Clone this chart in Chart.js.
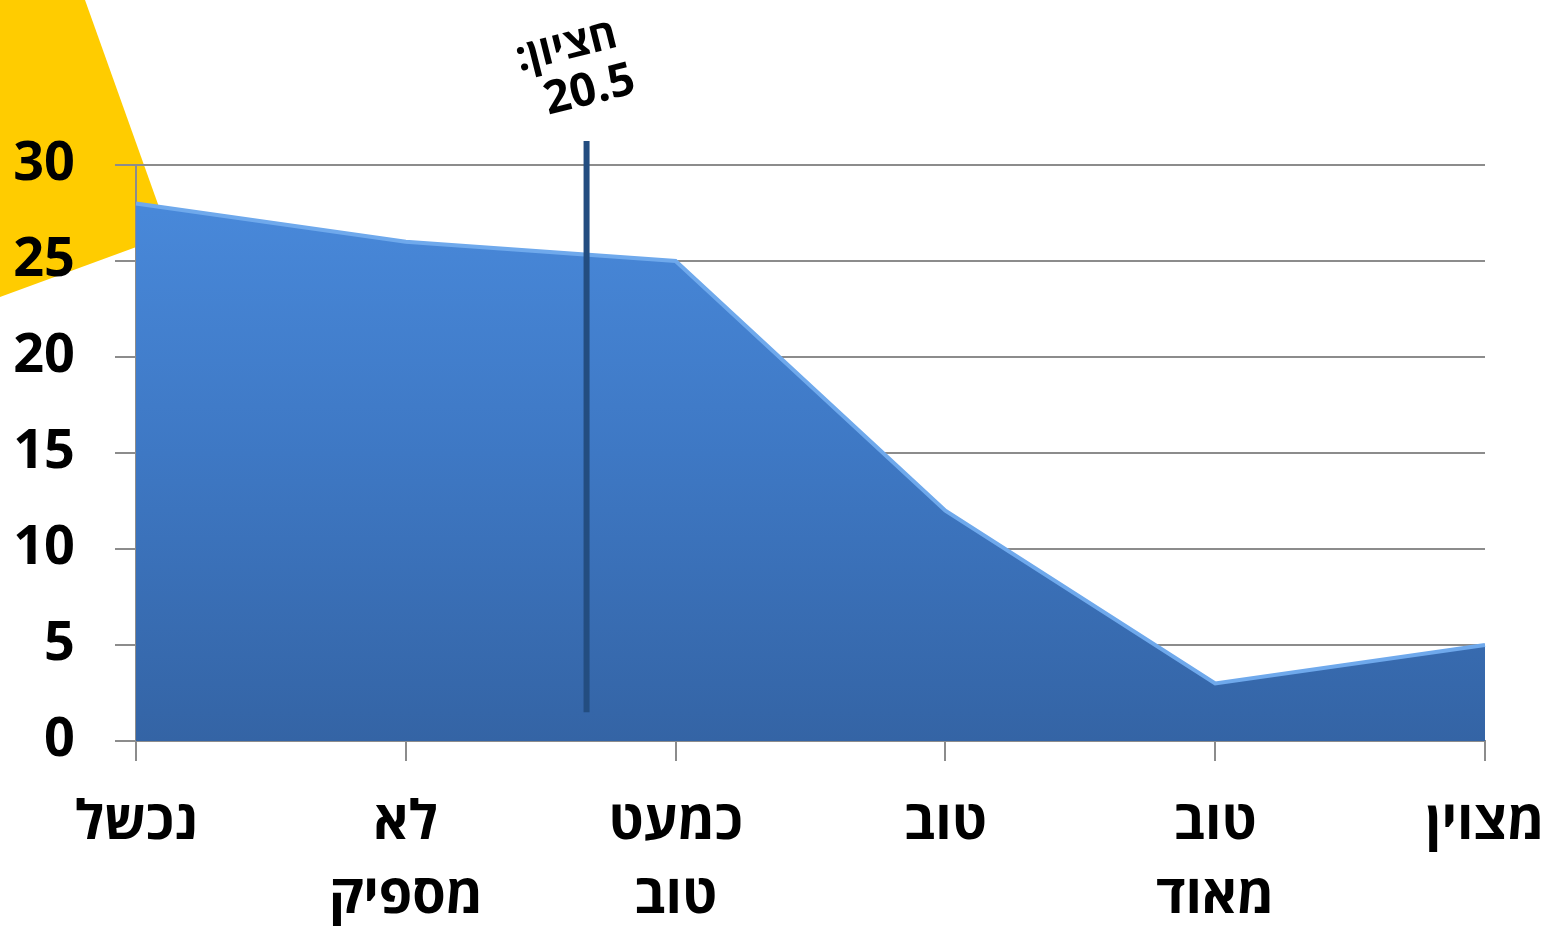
<!DOCTYPE html>
<html lang="he">
<head>
<meta charset="utf-8">
<title>התפלגות ציונים</title>
<script src="https://cdn.jsdelivr.net/npm/chart.js@4.4.1/dist/chart.umd.min.js"></script>
<style>
  html, body { margin: 0; padding: 0; background: #fff; }
  #wrap { position: relative; width: 1548px; height: 927px; overflow: hidden; }
  #deco { position: absolute; left: 0; top: 0; }
  #chart { position: absolute; left: 0; top: 0; }
</style>
</head>
<body>
<div id="wrap">
  <!-- yellow slide decoration behind the chart -->
  <svg id="deco" width="1548" height="927">
    <polygon points="0,0 85,0 169,235 0,297" fill="#FFCC00" />
  </svg>
  <canvas id="chart" width="1548" height="927"></canvas>
</div>
<script>
// data
const categories = ["נכשל", ["לא", "מספיק"], ["כמעט", "טוב"], "טוב", ["טוב", "מאוד"], "מצוין"];
const counts = [28, 26, 25, 12, 3, 5];
const yTicks = [0, 5, 10, 15, 20, 25, 30];

// median marker (position on category axis, line extent in y units)
const medianLabel = ["חציון:", "20.5"];
const medianPos = 1.67;
const medianFrom = 1.5;
const medianTo = 31.25;

const FONT = "'Open Sans', 'DejaVu Sans', sans-serif";
const GRID = "#8C8C8C";

const medianPlugin = {
  id: "median",
  afterDatasetsDraw(chart) {
    const { ctx, scales } = chart;
    const x = scales.x.getPixelForValue(medianPos);
    const y1 = scales.y.getPixelForValue(medianFrom);
    const y2 = scales.y.getPixelForValue(medianTo);

    ctx.save();
    ctx.strokeStyle = "#234D80";
    ctx.lineWidth = 6;
    ctx.beginPath();
    ctx.moveTo(x, y1);
    ctx.lineTo(x, y2);
    ctx.stroke();

    // rotated label above the line
    ctx.translate(x - 8, y2 - 70);
    ctx.rotate(-14 * Math.PI / 180);
    ctx.fillStyle = "#000";
    ctx.textAlign = "center";
    ctx.textBaseline = "middle";
    ctx.direction = "rtl";
    ctx.font = "bold 42px " + FONT;
    ctx.fillText(medianLabel[0], -6, -26);
    ctx.direction = "ltr";
    ctx.font = "bold 46px " + FONT;
    ctx.fillText(medianLabel[1], 6, 22);
    ctx.restore();
  }
};

const ctx = document.getElementById("chart").getContext("2d");

new Chart(ctx, {
  type: "line",
  data: {
    labels: categories,
    datasets: [
      {
        data: counts,
        fill: "origin",
        borderColor: "#6FA9EC",
        borderWidth: 4,
        pointRadius: 0,
        tension: 0,
        backgroundColor: (c) => {
          const area = c.chart.chartArea;
          if (!area) return "#3F7AC6";
          const g = c.chart.ctx.createLinearGradient(0, area.top, 0, area.bottom);
          g.addColorStop(0, "#4A8BDD");
          g.addColorStop(0.5, "#3E78C4");
          g.addColorStop(1, "#3464A5");
          return g;
        },
      },
    ],
  },
  options: {
    responsive: false,
    animation: false,
    layout: { padding: { top: 165, left: 0, right: 63, bottom: 0 } },
    plugins: {
      legend: { display: false },
      tooltip: { enabled: false },
    },
    scales: {
      x: {
        offset: false,
        afterFit: (s) => {
          s.height = 186;
          s.paddingLeft = 0;
          s.paddingRight = 0;
        },
        grid: {
          drawOnChartArea: false,
          drawTicks: true,
          tickLength: 20,
          color: GRID,
          lineWidth: 2,
        },
        border: { color: GRID, width: 2 },
        ticks: {
          color: "#000",
          padding: 26,
          maxRotation: 0,
          autoSkip: false,
          font: { family: FONT, size: 54, weight: "bold", lineHeight: 1.36 },
        },
      },
      y: {
        min: 0,
        max: 30,
        afterFit: (s) => { s.width = 136; },
        afterBuildTicks: (s) => { s.ticks = yTicks.map((v) => ({ value: v })); },
        grid: {
          color: GRID,
          lineWidth: 2,
          tickLength: 21,
        },
        border: { color: GRID, width: 2 },
        ticks: {
          color: "#000",
          padding: 40,
          font: { family: FONT, size: 54, weight: "bold" },
        },
      },
    },
  },
  plugins: [medianPlugin],
});
</script>
</body>
</html>
